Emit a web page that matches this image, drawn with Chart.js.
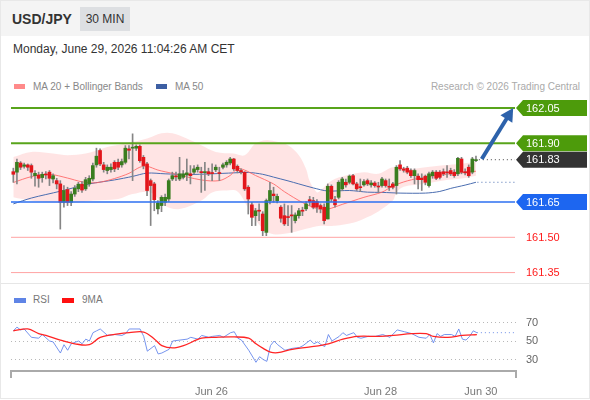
<!DOCTYPE html>
<html><head><meta charset="utf-8">
<script src="https://cdn.jsdelivr.net/npm/chart.js@4.4.1/dist/chart.umd.min.js"></script>
<style>
html,body{margin:0;padding:0;background:#fff;}
#card{position:relative;width:590px;height:399px;overflow:hidden;font-family:"Liberation Sans",Arial,sans-serif;box-sizing:border-box;border:1px solid #e8e8e8;}
.abs{position:absolute;white-space:nowrap;}
#hdr{left:0;top:0;width:590px;height:35px;background:#f4f4f4;}
#title{left:11px;top:10px;font-weight:bold;font-size:14px;line-height:16px;color:#333;}
#tf{left:79px;top:6px;width:50px;height:24px;background:#dddfe2;color:#333;font-size:12px;line-height:24px;text-align:center;}
#date{left:12px;top:41px;font-size:12px;line-height:14px;color:#333;}
.lg{font-size:10px;line-height:12px;color:#888;}
.sw{height:5px;}
#sep{left:0;top:282px;width:590px;height:1px;background:#e6e6e6;}
canvas{position:absolute;left:0;}
</style></head><body>
<div id="card">
  <div id="hdr" class="abs"></div>
  <div id="title" class="abs">USD/JPY</div>
  <div id="tf" class="abs">30 MIN</div>
  <div id="date" class="abs">Monday, June 29, 2026 11:04:26 AM CET</div>
  <div class="abs sw" style="left:13px;top:83px;width:11px;background:#ff8a8a;"></div>
  <div class="abs lg" style="left:32px;top:80px;">MA 20 + Bollinger Bands</div>
  <div class="abs sw" style="left:155px;top:83px;width:11px;background:#3d5fa3;"></div>
  <div class="abs lg" style="left:174px;top:80px;">MA 50</div>
  <div class="abs lg" style="right:9px;top:80px;color:#aaa;">Research © 2026 Trading Central</div>
  <div id="sep" class="abs"></div>
  <div class="abs sw" style="left:13px;top:297px;width:12px;background:#5f84e6;"></div>
  <div class="abs lg" style="left:32px;top:293px;color:#777;">RSI</div>
  <div class="abs sw" style="left:61px;top:297px;width:12px;background:#ff1010;"></div>
  <div class="abs lg" style="left:81px;top:293px;color:#777;">9MA</div>
  <canvas id="main" width="588" height="187" style="top:95px;"></canvas>
  <canvas id="rsi" width="588" height="116" style="top:283px;"></canvas>
</div>
<script>
const FONT = '"Liberation Sans", Arial, sans-serif';

// ---- candles (30 min) ----
const opens  = [161.779,161.777,161.816,161.802,161.808,161.805,161.762,161.765,161.754,161.768,161.777,161.748,161.741,161.727,161.649,161.703,161.649,161.684,161.706,161.726,161.706,161.727,161.748,161.808,161.869,161.808,161.784,161.788,161.819,161.819,161.808,161.819,161.876,161.879,161.879,161.887,161.840,161.812,161.741,161.727,161.621,161.635,161.649,
161.663,161.748,161.760,161.748,161.755,161.765,161.770,161.777,161.788,161.777,161.775,161.779,161.774,161.787,161.774,161.798,161.808,161.816,161.833,161.802,161.784,161.777,161.713,161.638,161.592,161.615,161.599,161.521,161.656,161.684,161.656,161.628,161.592,161.587,161.592,161.571,161.592,161.613,161.621,161.660,161.656,161.652,161.635,161.628,161.578,
161.717,161.660,161.670,161.706,161.734,161.734,161.762,161.727,161.714,161.723,161.741,161.723,161.731,161.717,161.720,161.741,161.717,161.727,161.720,161.808,161.791,161.794,161.784,161.762,161.760,161.751,161.760,161.720,161.762,161.777,161.777,161.779,161.777,161.784,161.777,161.770,161.833,161.779,161.798,161.777,161.826];
const highs  = [161.794,161.833,161.822,161.816,161.812,161.812,161.784,161.777,161.777,161.779,161.784,161.770,161.751,161.741,161.720,161.713,161.694,161.720,161.734,161.737,161.755,161.762,161.816,161.879,161.876,161.819,161.808,161.812,161.826,161.833,161.833,161.890,161.890,161.940,161.893,161.893,161.848,161.819,161.748,161.734,161.656,161.677,161.684,
161.748,161.777,161.777,161.840,161.784,161.833,161.805,161.805,161.808,161.798,161.819,161.794,161.812,161.808,161.798,161.816,161.826,161.840,161.836,161.808,161.791,161.779,161.720,161.649,161.623,161.642,161.609,161.663,161.734,161.713,161.684,161.635,161.642,161.635,161.635,161.604,161.623,161.628,161.652,161.674,161.670,161.660,161.642,161.642,161.727,
161.723,161.674,161.741,161.755,161.748,161.765,161.768,161.734,161.748,161.745,161.748,161.741,161.737,161.734,161.755,161.748,161.748,161.734,161.805,161.826,161.798,161.802,161.791,161.791,161.770,161.770,161.765,161.777,161.784,161.784,161.784,161.791,161.805,161.794,161.788,161.840,161.840,161.791,161.808,161.840,161.845];
const lows   = [161.734,161.727,161.788,161.794,161.784,161.751,161.717,161.713,161.734,161.748,161.720,161.731,161.706,161.535,161.628,161.635,161.635,161.674,161.694,161.691,161.699,161.717,161.740,161.798,161.805,161.777,161.770,161.777,161.779,161.788,161.798,161.812,161.833,161.741,161.869,161.819,161.791,161.677,161.550,161.613,161.599,161.609,161.635,
161.652,161.741,161.741,161.741,161.748,161.741,161.727,161.770,161.777,161.691,161.699,161.762,161.741,161.779,161.741,161.791,161.798,161.808,161.784,161.774,161.770,161.699,161.599,161.550,161.550,161.571,161.507,161.507,161.642,161.649,161.646,161.564,161.550,161.550,161.521,161.561,161.581,161.592,161.613,161.635,161.621,161.606,161.604,161.557,161.578,
161.652,161.628,161.663,161.699,161.713,161.727,161.723,161.699,161.694,161.717,161.720,161.713,161.713,161.691,161.713,161.713,161.699,161.706,161.684,161.784,161.777,161.770,161.755,161.727,161.706,161.699,161.723,161.713,161.751,161.745,161.748,161.762,161.755,161.762,161.755,161.762,161.770,161.765,161.755,161.770,161.822];
const closes = [161.768,161.819,161.798,161.808,161.798,161.777,161.772,161.751,161.768,161.765,161.751,161.762,161.727,161.649,161.699,161.649,161.684,161.709,161.726,161.701,161.745,161.751,161.805,161.845,161.812,161.788,161.798,161.798,161.791,161.798,161.822,161.879,161.870,161.883,161.887,161.826,161.805,161.699,161.720,161.660,161.646,161.670,161.670,
161.741,161.762,161.757,161.770,161.770,161.774,161.762,161.791,161.798,161.775,161.778,161.770,161.771,161.798,161.771,161.808,161.819,161.833,161.791,161.784,161.778,161.706,161.663,161.585,161.613,161.611,161.528,161.656,161.699,161.677,161.674,161.581,161.557,161.584,161.591,161.595,161.613,161.611,161.642,161.652,161.628,161.628,161.621,161.571,161.717,
161.663,161.638,161.734,161.748,161.723,161.760,161.727,161.706,161.711,161.737,161.727,161.731,161.720,161.714,161.748,161.720,161.713,161.713,161.798,161.791,161.785,161.777,161.762,161.784,161.745,161.745,161.734,161.770,161.777,161.751,161.755,161.770,161.774,161.770,161.762,161.836,161.777,161.774,161.762,161.833,161.829];

// ---- overlays: sampled readings (candle index, price) ----
const ma20Idx  = [0,5,10,15,19,23,28,32,35,37,40,44,52,57,60,62,64,67,72,75,80,84,87,91,97,102,105,109,114,121,128];
const ma20Vals = [161.733,161.758,161.768,161.752,161.736,161.732,161.750,161.772,161.798,161.802,161.786,161.772,161.744,161.741,161.763,161.792,161.786,161.763,161.727,161.694,161.648,161.622,161.620,161.640,161.670,161.692,161.718,161.740,161.756,161.770,161.781];
const ma50Idx  = [0,5,13,21,28,33,37,42,48,55,61,65,69,72,76,79,83,87,93,98,102,107,114,118,121,125,128];
const ma50Vals = [161.642,161.667,161.696,161.727,161.744,161.759,161.773,161.770,161.767,161.770,161.774,161.776,161.768,161.756,161.740,161.727,161.710,161.697,161.699,161.692,161.691,161.688,161.688,161.695,161.708,161.722,161.734];
const bbUpIdx  = [0,5,11,15,20,26,31,37,41,44,48,52,56,61,64,67,70,73,76,79,81,82,84,85,88,92,97,101,105,110,114,119,124,128];
const bbUpVals = [161.841,161.863,161.856,161.849,161.856,161.884,161.899,161.920,161.942,161.942,161.920,161.891,161.863,161.856,161.849,161.899,161.913,161.906,161.891,161.849,161.790,161.738,161.691,161.699,161.741,161.763,161.777,161.770,161.798,161.791,161.798,161.806,161.813,161.820];
const bbLoIdx  = [0,5,11,16,22,29,33,38,42,46,52,55,59,62,65,69,72,77,81,85,89,94,97,101,105,106,108,114,119,124,128];
const bbLoVals = [161.670,161.656,161.648,161.645,161.656,161.663,161.684,161.691,161.634,161.620,161.656,161.691,161.699,161.695,161.625,161.536,161.513,161.520,161.536,161.549,161.549,161.562,161.579,161.610,161.656,161.690,161.715,161.728,161.742,161.750,161.762];

// ---- levels ----
const levelValues = [162.05, 161.90, 161.65, 161.50, 161.35];
const lastPrice = 161.83;
const arrowFrom = [129.6, 161.833];
const arrowTo   = [138.3, 162.05];

// ---- RSI panel ----
const rsiIdx  = [0,1,2,3,5,7,8,10,11,13,14,15,16,18,19,20,21,22,23,24,26,28,30,31,32,35,36,37,39,40,41,43,44,46,48,49,51,52,54,55,57,58,60,61,62,63,65,67,68,69,70,71,72,73,75,77,79,80,82,83,84,85,86,87,88,90,91,92,94,95,96,98,100,102,104,106,108,110,112,114,115,116,117,118,119,121,122,123,124,125,126,127,128];
const rsiVals = [61,65,62,63,54,53,57,50,49,37,46,40,47,50,47,52,50,59,61,63,56,57,56,58,63,63,55,39,45,36,37,41,50,51,52,54,52,56,54,55,56,54,59,60,53,51,40,27,33,30,28,45,50,46,40,42,43,45,51,47,49,46,44,57,50,55,59,56,59,54,53,55,55,57,54,62,60,58,54,53,57,48,58,55,57,57,55,63,52,51,55,61,59];
const rsiMaIdx  = [0,4,7,9,13,17,21,24,29,32,36,39,41,44,47,52,56,61,65,67,69,71,73,77,82,87,91,95,101,105,110,114,116,120,124,128];
const rsiMaVals = [61,63,58,56,51,47,46,54,57.7,59,59.6,52,45,42.5,45,53,54,54.4,53,47,42,38,37.4,41,43.6,47,52,55,55,56,58,58,55,54,56,57];
const rsiTicks = [30, 50, 70];
const xTickLabels = ['Jun 26', 'Jun 28', 'Jun 30'];
const xTickPos = [54.7, 101.4, 129.1];

const X_MIN = -0.64, X_MAX = 138.8;

const pts = (xs, ys) => xs.map((x, i) => ({x, y: ys[i]}));

// level styles (kept apart from values)
const levelStyles = [
  {kind: 'tag', bg: '#4d9b0b', line: '#58a41b', w: 2},
  {kind: 'tag', bg: '#4d9b0b', line: '#58a41b', w: 2},
  {kind: 'tag', bg: '#1d66f0', line: '#2c6ff0', w: 1.5},
  {kind: 'text', color: '#ff1a1a', line: '#ffa3a3', w: 1},
  {kind: 'text', color: '#ff1a1a', line: '#ffa3a3', w: 1}
];

function drawTag(ctx, xl, yc, bg, label) {
  const h = 16;
  ctx.fillStyle = bg;
  ctx.beginPath();
  ctx.moveTo(xl + 1, yc);
  ctx.lineTo(xl + 8, yc - h / 2);
  ctx.lineTo(xl + 72, yc - h / 2);
  ctx.lineTo(xl + 72, yc + h / 2);
  ctx.lineTo(xl + 8, yc + h / 2);
  ctx.closePath();
  ctx.fill();
  ctx.fillStyle = '#fff';
  ctx.font = '11px ' + FONT;
  ctx.textBaseline = 'middle';
  ctx.textAlign = 'left';
  ctx.fillText(label, xl + 11, yc + 0.5);
}

const mainPlugin = {
  id: 'mainDecor',
  afterDatasetsDraw(chart) {
    const {ctx, chartArea: a, scales: {x, y}} = chart;
    ctx.save();
    levelValues.forEach((v, i) => {
      const s = levelStyles[i];
      const py = y.getPixelForValue(v);
      ctx.strokeStyle = s.line; ctx.lineWidth = s.w;
      ctx.beginPath(); ctx.moveTo(a.left, py); ctx.lineTo(a.right, py); ctx.stroke();
    });
    // dotted extensions
    ctx.setLineDash([1, 3]); ctx.lineWidth = 1;
    const lp = y.getPixelForValue(lastPrice);
    ctx.strokeStyle = '#444';
    ctx.beginPath(); ctx.moveTo(x.getPixelForValue(closes.length - 0.2), lp); ctx.lineTo(a.right, lp); ctx.stroke();
    const mp = y.getPixelForValue(ma50Vals[ma50Vals.length - 1]);
    ctx.strokeStyle = '#4a6db0';
    ctx.beginPath(); ctx.moveTo(x.getPixelForValue(closes.length - 0.6), mp); ctx.lineTo(a.right, mp); ctx.stroke();
    ctx.restore();
  },
  afterDraw(chart) {
    const {ctx, chartArea: a, scales: {x, y}} = chart;
    ctx.save();
    levelValues.forEach((v, i) => {
      const s = levelStyles[i];
      const py = y.getPixelForValue(v);
      if (s.kind === 'tag') drawTag(ctx, a.right, py, s.bg, v.toFixed(2));
      else {
        ctx.fillStyle = s.color; ctx.font = '11px ' + FONT;
        ctx.textBaseline = 'middle'; ctx.textAlign = 'left';
        ctx.fillText(v.toFixed(2), a.right + 11, py + 0.5);
      }
    });
    drawTag(ctx, a.right, y.getPixelForValue(lastPrice), '#333333', lastPrice.toFixed(2));
    // arrow
    const x0 = x.getPixelForValue(arrowFrom[0]), y0 = y.getPixelForValue(arrowFrom[1]);
    const x1 = x.getPixelForValue(arrowTo[0]), y1 = y.getPixelForValue(arrowTo[1]);
    const ang = Math.atan2(y1 - y0, x1 - x0), c = Math.cos(ang), sn = Math.sin(ang);
    const hl = 13, hw = 7;
    const bx = x1 - hl * c, by = y1 - hl * sn;
    ctx.strokeStyle = '#2d62ab'; ctx.fillStyle = '#2d62ab'; ctx.lineWidth = 4;
    ctx.beginPath(); ctx.moveTo(x0, y0); ctx.lineTo(bx + c, by + sn); ctx.stroke();
    ctx.beginPath();
    ctx.moveTo(x1, y1);
    ctx.lineTo(bx + hw * sn, by - hw * c);
    ctx.lineTo(bx - hw * sn, by + hw * c);
    ctx.closePath(); ctx.fill();
    ctx.restore();
  }
};

const bodyColors = closes.map((c, i) => c >= opens[i] ? '#3a7d1f' : '#e2161b');

new Chart(document.getElementById('main'), {
  type: 'bar',
  data: {
    datasets: [
      {type: 'bar', data: closes.map((c, i) => ({x: i, y: [opens[i], c]})), backgroundColor: bodyColors,
       barThickness: 3, grouped: false, minBarLength: 1, borderWidth: 0, order: 0},
      {type: 'bar', data: closes.map((c, i) => ({x: i, y: [lows[i], highs[i]]})), backgroundColor: '#858585',
       barThickness: 1, grouped: false, borderWidth: 0, order: 1},
      {type: 'line', data: pts(ma20Idx, ma20Vals), borderColor: 'rgba(255,100,100,0.85)', borderWidth: 1, pointRadius: 0, tension: 0.3, order: 2},
      {type: 'line', data: pts(ma50Idx, ma50Vals), borderColor: '#4a6db0', borderWidth: 1, pointRadius: 0, tension: 0.3, order: 3},
      {type: 'line', data: pts(bbUpIdx, bbUpVals), borderWidth: 0, borderColor: 'rgba(0,0,0,0)', pointRadius: 0, tension: 0.35, order: 5},
      {type: 'line', data: pts(bbLoIdx, bbLoVals), borderWidth: 0, borderColor: 'rgba(0,0,0,0)', pointRadius: 0, tension: 0.35, order: 4,
       fill: '-1', backgroundColor: 'rgba(255,120,120,0.2)'}
    ]
  },
  options: {
    responsive: false, animation: false, devicePixelRatio: 1,
    layout: {padding: {left: 10, right: 74, top: 0, bottom: 0}},
    plugins: {legend: {display: false}, tooltip: {enabled: false}},
    scales: {
      x: {type: 'linear', min: X_MIN, max: X_MAX, offset: false, display: false},
      y: {min: 161.3057, max: 162.1009, display: false}
    }
  },
  plugins: [mainPlugin]
});

const rsiPlugin = {
  id: 'rsiDecor',
  afterDraw(chart) {
    const {ctx, chartArea: a, scales: {y}} = chart;
    ctx.save();
    ctx.strokeStyle = '#aaa'; ctx.lineWidth = 2;
    ctx.beginPath();
    ctx.moveTo(a.left, a.bottom); ctx.lineTo(a.left, a.bottom + 7);
    ctx.moveTo(a.right, a.bottom); ctx.lineTo(a.right, a.bottom + 7);
    ctx.stroke();
    const last = rsiVals[rsiVals.length - 1];
    const py = y.getPixelForValue(last);
    ctx.setLineDash([1, 3]); ctx.lineWidth = 1; ctx.strokeStyle = '#6f8fe8';
    ctx.beginPath(); ctx.moveTo(chart.scales.x.getPixelForValue(rsiIdx[rsiIdx.length - 1]), py); ctx.lineTo(a.right, py); ctx.stroke();
    ctx.restore();
  }
};

new Chart(document.getElementById('rsi'), {
  type: 'line',
  data: {
    datasets: [
      {data: pts(rsiMaIdx, rsiMaVals), borderColor: '#ff2424', borderWidth: 1.3, pointRadius: 0, tension: 0.35, order: 0},
      {data: pts(rsiIdx, rsiVals), borderColor: 'rgba(95,130,235,0.85)', borderWidth: 1, pointRadius: 0, tension: 0, order: 1}
    ]
  },
  options: {
    responsive: false, animation: false, devicePixelRatio: 1,
    layout: {padding: {left: 10, right: 0, top: 17, bottom: 0}},
    plugins: {legend: {display: false}, tooltip: {enabled: false}},
    scales: {
      x: {
        type: 'linear', min: X_MIN, max: X_MAX, offset: false,
        grid: {display: false},
        border: {display: true, color: '#aaa', width: 2},
        ticks: {autoSkip: false, maxRotation: 0, padding: 6, color: '#777', font: {size: 11, family: FONT},
          callback: (v) => { const k = xTickPos.indexOf(v); return k >= 0 ? xTickLabels[k] : ''; }},
        afterBuildTicks: (s) => { s.ticks = xTickPos.map(v => ({value: v})); },
        afterFit: (s) => { s.height = 29; }
      },
      y: {
        position: 'right', min: 17.57, max: 93.24,
        grid: {color: '#b8b8b8', lineWidth: 1, drawTicks: false},
        border: {display: false, dash: [1, 3]},
        ticks: {padding: 10, color: '#666', font: {size: 11, family: FONT}},
        afterBuildTicks: (s) => { s.ticks = rsiTicks.map(v => ({value: v})); },
        afterFit: (s) => { s.width = 73; }
      }
    }
  },
  plugins: [rsiPlugin]
});
</script>
</body></html>
